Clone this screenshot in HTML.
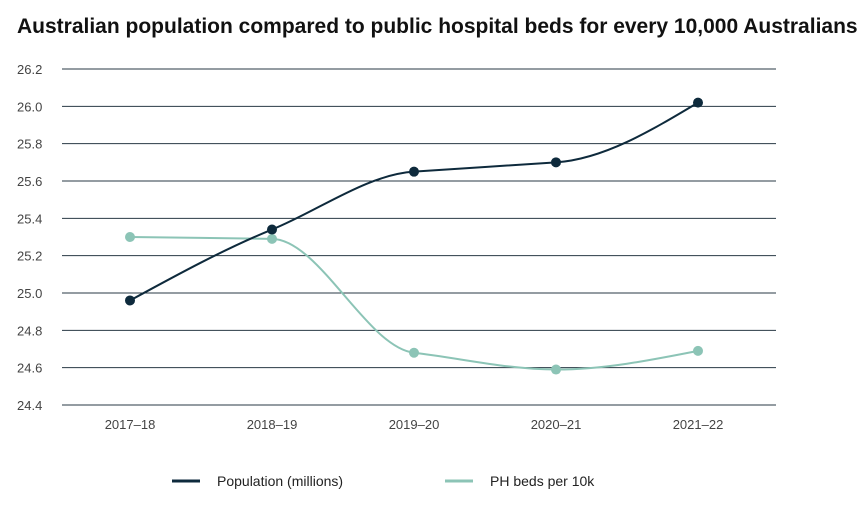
<!DOCTYPE html>
<html><head><meta charset="utf-8"><style>
body{margin:0;background:#fff;width:868px;height:507px;overflow:hidden;font-family:"Liberation Sans",sans-serif}
#title{position:absolute;left:17px;top:15px;font-size:21px;font-weight:bold;color:#111;letter-spacing:0px;white-space:nowrap}
svg{position:absolute;left:0;top:0}
</style></head><body>
<div id="title">Australian population compared to public hospital beds for every 10,000 Australians</div>
<svg id="chart" width="868" height="507"></svg>
<script>
const categories=["2017–18","2018–19","2019–20","2020–21","2021–22"];
const population=[24.96,25.34,25.65,25.70,26.02];
const beds=[25.30,25.29,24.68,24.59,24.69];
const yTicks=[24.4,24.6,24.8,25.0,25.2,25.4,25.6,25.8,26.0,26.2];
const seriesNames=["Population (millions)","PH beds per 10k"];

const NS="http://www.w3.org/2000/svg";
const svg=document.getElementById('chart');
const X0=62,X1=776,Y0=405,Y1=69,ymin=24.4,ymax=26.2;
const xs=i=>130+i*(698-130)/(categories.length-1);
const ys=v=>Y0-(v-ymin)/(ymax-ymin)*(Y0-Y1);
function mk(t,a){const e=document.createElementNS(NS,t);for(const k in a)e.setAttribute(k,a[k]);svg.appendChild(e);return e;}
yTicks.forEach(v=>{
 const l=mk('line',{x1:X0,x2:X1,y1:ys(v),y2:ys(v),stroke:'#2a3a44','stroke-width':1});
 
 
 const t=mk('text',{x:17,y:ys(v)+5,'font-size':13,fill:'#444'});t.textContent=v.toFixed(1);
 
 
});
categories.forEach((c,i)=>{
 const t=mk('text',{x:xs(i),y:429,'font-size':13,fill:'#444','text-anchor':'middle'});t.textContent=c;
 
 
});
function monotone(px,py){
 const n=px.length,d=[],m=[];
 for(let i=0;i<n-1;i++)d.push((py[i+1]-py[i])/(px[i+1]-px[i]));
 for(let i=0;i<n;i++){
  if(i==0||i==n-1){m.push(0);continue;}
  const s0=d[i-1],s1=d[i];
  if(s0*s1<=0){m.push(0);continue;}
  const p=(s0+s1)/2;
  m.push(Math.sign(s0)*Math.min(Math.abs(s0),Math.abs(s1),Math.abs(p)));
 }
 m[0]=(3*d[0]-m[1])/2; if(m[0]*d[0]<=0||Math.abs(d[0])<0.05)m[0]=d[0];
 m[n-1]=(3*d[n-2]-m[n-2])/2; if(m[n-1]*d[n-2]<=0)m[n-1]=d[n-2];
 let s=`M${px[0]},${py[0]}`;
 for(let i=0;i<n-1;i++){const h=(px[i+1]-px[i])/3;
  s+=`C${px[i]+h},${py[i]+m[i]*h} ${px[i+1]-h},${py[i+1]-m[i+1]*h} ${px[i+1]},${py[i+1]}`;}
 return s;
}
function series(vals,color,name){
 const px=vals.map((v,i)=>xs(i)),py=vals.map(ys);
 const p=mk('path',{d:monotone(px,py),fill:'none',stroke:color,'stroke-width':2});
 
 
 vals.forEach((v,i)=>{const c=mk('circle',{cx:px[i],cy:py[i],r:5,fill:color});
  
  });
}
series(beds,'#8cc4b6','beds');
series(population,'#0e2a3c','population');
[[172,'#0e2a3c',0],[445,'#8cc4b6',1]].forEach(([x,c,i])=>{
 const l=mk('line',{x1:x,x2:x+28,y1:481,y2:481,stroke:c,'stroke-width':3});
 
 
 const t=mk('text',{x:x+45,y:486,'font-size':14,fill:'#222'});t.textContent=seriesNames[i];
 
 
});
</script>
</body></html>
